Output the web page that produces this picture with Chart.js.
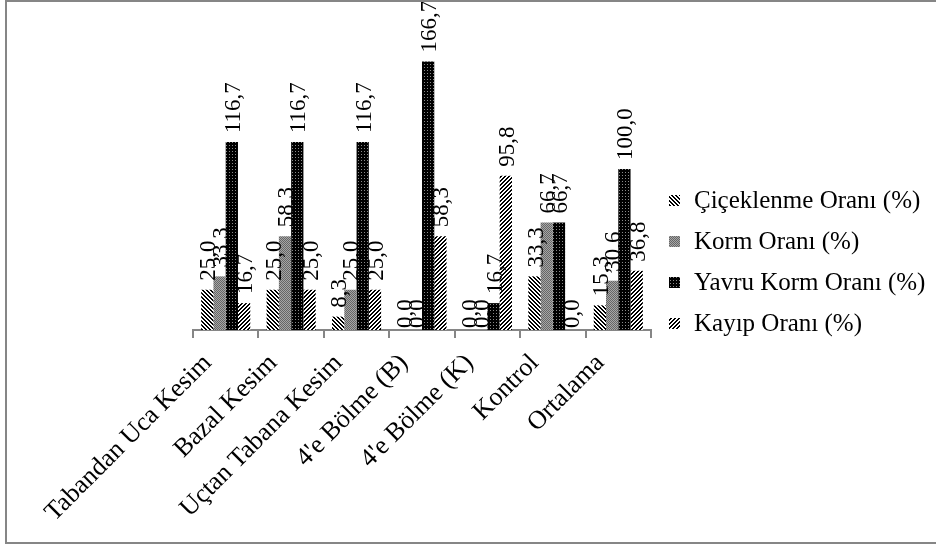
<!DOCTYPE html>
<html>
<head>
<meta charset="utf-8">
<script src="https://cdn.jsdelivr.net/npm/chart.js@4/dist/chart.umd.min.js"></script>
<style>
html,body{margin:0;padding:0;background:#fff;}
canvas{display:block;}
</style>
</head>
<body>
<canvas id="chart" width="936" height="546"></canvas>
<script>
const categories = ["Tabandan Uca Kesim","Bazal Kesim","Uçtan Tabana Kesim","4'e Bölme (B)","4'e Bölme (K)","Kontrol","Ortalama"];
const seriesNames = ["Çiçeklenme Oranı (%)","Korm Oranı (%)","Yavru Korm Oranı (%)","Kayıp Oranı (%)"];
const cicek = [25.0,25.0,8.3,0.0,0.0,33.3,15.3];
const korm = [33.3,58.3,25.0,0.0,0.0,66.7,30.6];
const yavru = [116.7,116.7,116.7,166.7,16.7,66.7,100.0];
const kayip = [16.7,25.0,25.0,58.3,95.8,0.0,36.8];

const FONT = "'Liberation Serif','Times New Roman',serif";
const GRAY = "#868686";

const canvas = document.getElementById("chart");
const ctx = canvas.getContext("2d");

/* fill patterns, built pixel by pixel */
function makePattern(size, pick){
  const c = document.createElement("canvas");
  c.width = size; c.height = size;
  const g = c.getContext("2d");
  for(let y=0;y<size;y++){
    for(let x=0;x<size;x++){
      g.fillStyle = pick(x,y);
      g.fillRect(x,y,1,1);
    }
  }
  return ctx.createPattern(c,"repeat");
}

const backSlash = makePattern(4,(x,y)=> ((x-y+8)%4<2) ? "#000" : "#fff");
const fwdSlash = makePattern(4,(x,y)=> ((x+y)%4<2) ? "#000" : "#fff");
const grayDots = makePattern(2,(x,y)=> ((x+y)%2===0) ? "#666" : "#a6a6a6");
const darkDots = makePattern(3,(x,y)=> (x===1 && y===1) ? "#8a8a8a" : "#000");

const fills = [backSlash, grayDots, darkDots, fwdSlash];
const values = [cicek, korm, yavru, kayip];

const fmt = v => v.toFixed(1).replace(".", ",");

/* value labels, turned upright above each bar */
const barLabels = {
  id:"barLabels",
  afterDatasetsDraw(chart){
    const c = chart.ctx;
    c.save();
    c.fillStyle = "#000";
    c.font = "23px " + FONT;
    c.textAlign = "left";
    c.textBaseline = "middle";
    chart.data.datasets.forEach((ds,i)=>{
      const meta = chart.getDatasetMeta(i);
      meta.data.forEach((bar,j)=>{
        const v = ds.data[j];
        const gap = v === 0 ? 2 : 9;
        c.save();
        c.translate(bar.x + 2, bar.y - gap);
        c.rotate(-Math.PI/2);
        c.fillText(fmt(v),0,0);
        c.restore();
      });
    });
    c.restore();
  }
};

/* legend on the right and the outer frame */
const sideLegend = {
  id:"sideLegend",
  afterDraw(chart){
    const c = chart.ctx;
    c.save();
    c.font = "25px " + FONT;
    c.textBaseline = "middle";
    c.fillStyle = "#000";
    seriesNames.forEach((name,i)=>{
      const y = 201 + i*41;
      c.fillStyle = fills[i];
      c.fillRect(669, y-6, 11, 11);
      c.fillStyle = "#000";
      c.fillText(name, 694, y);
    });
    c.strokeStyle = GRAY;
    c.lineWidth = 2;
    c.strokeRect(6, 1, 940, 542);
    c.restore();
  }
};

new Chart(canvas,{
  type:"bar",
  data:{
    labels:categories,
    datasets:seriesNames.map((name,i)=>({
      label:name,
      data:values[i],
      backgroundColor:fills[i],
      borderWidth:0,
      categoryPercentage:0.75,
      barPercentage:1
    }))
  },
  options:{
    responsive:false,
    animation:false,
    layout:{padding:{left:193,right:285,top:8,bottom:0}},
    plugins:{legend:{display:false},tooltip:{enabled:false}},
    scales:{
      x:{
        grid:{display:true,drawOnChartArea:false,drawTicks:true,tickLength:8,color:GRAY,lineWidth:2,offset:true},
        border:{display:true,color:GRAY,width:2},
        ticks:{color:"#000",font:{family:FONT,size:26},minRotation:45,maxRotation:45,padding:10,labelOffset:-18,autoSkip:false},
        afterFit(scale){ scale.height = 216; }
      },
      y:{
        display:false,
        min:0,
        max:200
      }
    }
  },
  plugins:[barLabels, sideLegend]
});
</script>
</body>
</html>
